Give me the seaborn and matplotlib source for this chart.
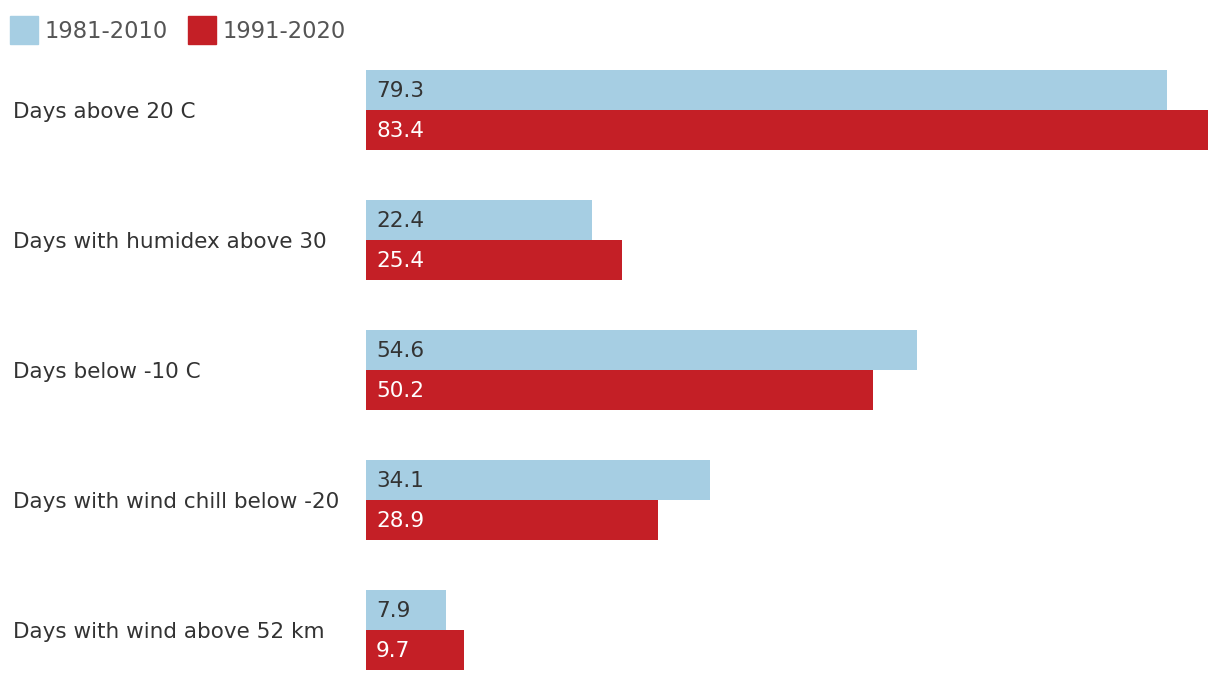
import matplotlib.pyplot as plt
import matplotlib.patches as mpatches
import pandas as pd
import seaborn as sns

categories = ["Days above 20 C", "Days with humidex above 30", "Days below -10 C",
              "Days with wind chill below -20", "Days with wind above 52 km"]
periods = ["1981-2010", "1991-2020"]
values_8110 = [79.3, 22.4, 54.6, 34.1, 7.9]
values_9120 = [83.4, 25.4, 50.2, 28.9, 9.7]
colors = ["#a6cee3", "#c41f26"]
text_colors = ["#333333", "#ffffff"]

df = pd.DataFrame({
    "category": categories * 2,
    "period": [periods[0]] * 5 + [periods[1]] * 5,
    "days": values_8110 + values_9120,
})

sns.set_theme(style="white")
plt.rcParams["font.family"] = ["DejaVu Sans"]

fig = plt.figure(figsize=(12.2, 6.82), dpi=100)
ax = fig.add_axes([366 / 1220, 1 - 670 / 682, (1208 - 366) / 1220, 600 / 682])

w = 80 / 130
sns.barplot(data=df, y="category", x="days", hue="period", order=categories,
            hue_order=periods, palette=colors, width=w, dodge=True,
            saturation=1, orient="h", ax=ax, legend=False, linewidth=0)

ax.set_xlim(0, max(values_9120))
ax.set_ylim(len(categories) - 1 + w / 2, -w / 2)
ax.set_xlabel("")
ax.set_ylabel("")
ax.set_xticks([])
ax.set_yticks([])
for s in ax.spines.values():
    s.set_visible(False)

# value labels inside the bars
for cont, tc in zip(ax.containers, text_colors):
    for bar in cont:
        ax.text(1.0, bar.get_y() + bar.get_height() / 2 + 0.01, f"{bar.get_width():.1f}",
                ha="left", va="center", fontsize=15.5, color=tc)

# category labels at left edge of figure
for i, cat in enumerate(categories):
    y = ax.transData.transform((0, i))[1] / fig.dpi / fig.get_figheight()
    fig.text(13 / 1220, y - 2 / 682, cat, ha="left", va="center", fontsize=15.5, color="#333333")

# legend
for x0, lab, c in zip([10, 188], periods, colors):
    fig.patches.append(mpatches.Rectangle((x0 / 1220, 1 - 44 / 682), 28 / 1220, 28 / 682,
                                          transform=fig.transFigure, color=c))
    fig.text((x0 + 35) / 1220, 1 - 31 / 682, lab, ha="left", va="center",
             fontsize=16.3, color="#555555")

fig.savefig("out.png", dpi=100)
